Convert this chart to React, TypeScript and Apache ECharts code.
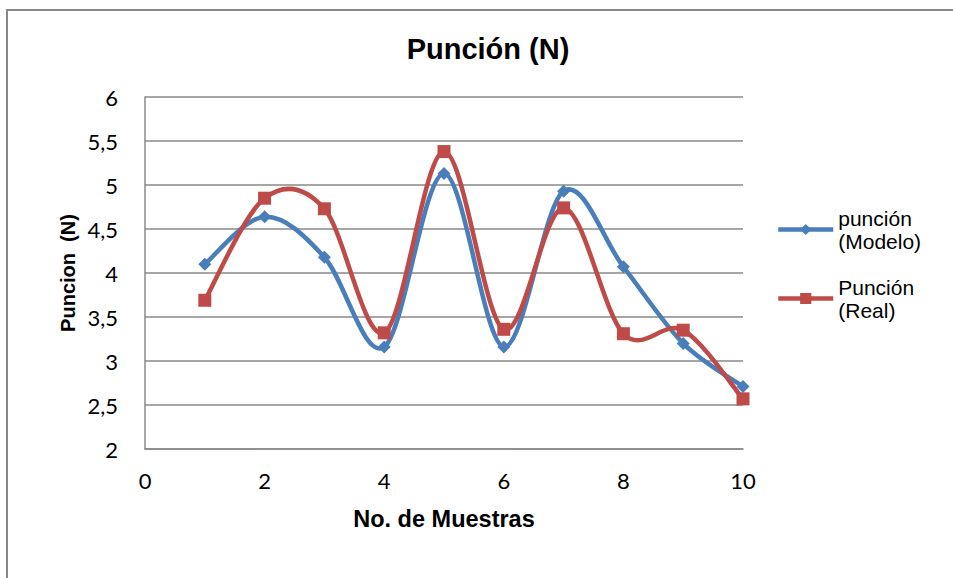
import React, { useEffect, useRef } from "react";
import * as echarts from "echarts";

const samples = [1, 2, 3, 4, 5, 6, 7, 8, 9, 10];
const modelo = [4.1, 4.64, 4.18, 3.16, 5.13, 3.16, 4.93, 4.07, 3.2, 2.71];
const real = [3.69, 4.85, 4.73, 3.32, 5.38, 3.36, 4.74, 3.31, 3.35, 2.57];
const seriesNames = ["punción\n(Modelo)", "Punción\n(Real)"];
const titleText = "Punción (N)";
const xTitle = "No. de Muestras";
const yTitle = "Puncion  (N)";

const BLUE = "#4A7EBB";
const RED = "#BE4B48";

function curveSeries(values: number[], color: string, z: number) {
  return {
    type: "custom",
    coordinateSystem: "cartesian2d",
    silent: true,
    z,
    encode: { x: 0, y: 1 },
    data: samples.map((x, i) => [x, values[i]]),
    renderItem: (params: any, api: any) => {
      const i = params.dataIndex;
      const n = samples.length;
      if (i >= n - 1) return { type: "group", children: [] };
      const pt = (k: number) => {
        const kk = Math.max(0, Math.min(n - 1, k));
        return api.coord([samples[kk], values[kk]]);
      };
      const p0 = pt(i - 1);
      const p1 = pt(i);
      const p2 = pt(i + 1);
      const p3 = pt(i + 2);
      const t = 1 / 6;
      return {
        type: "bezierCurve",
        shape: {
          x1: p1[0],
          y1: p1[1],
          x2: p2[0],
          y2: p2[1],
          cpx1: p1[0] + (p2[0] - p0[0]) * t,
          cpy1: p1[1] + (p2[1] - p0[1]) * t,
          cpx2: p2[0] - (p3[0] - p1[0]) * t,
          cpy2: p2[1] - (p3[1] - p1[1]) * t,
        },
        style: { stroke: color, lineWidth: 4.5, fill: "none", lineCap: "round" },
      };
    },
  };
}

export default function App() {
  const ref = useRef<HTMLDivElement>(null);
  useEffect(() => {
    document.body.style.margin = "0";
    const chart = echarts.init(ref.current!, null, { renderer: "svg" });
    const gray = "#888888";
    chart.setOption({
      animation: false,
      backgroundColor: "#ffffff",
      title: {
        text: titleText,
        left: 483,
        textAlign: "center",
        top: 29,
        textStyle: { fontFamily: "Liberation Sans, Arial", fontWeight: "bold", fontSize: 29, color: "#000" },
      },
      graphic: [
        {
          type: "rect",
          shape: { x: 7, y: 10, width: 1000, height: 600 },
          style: { fill: "none", stroke: gray, lineWidth: 2 },
          silent: true,
        },
      ],
      legend: {
        orient: "vertical",
        left: 771,
        top: 190,
        itemWidth: 55,
        itemHeight: 14,
        itemGap: 0,
        lineStyle: { width: 4.5, opacity: 1 },
        textStyle: {
          fontFamily: "Liberation Sans, Arial",
          fontSize: 21,
          lineHeight: 23,
          color: "#000",
          padding: [23, 0, 0, 0],
        },
        data: seriesNames,
      },
      grid: { left: 145, right: 210, top: 97, bottom: 129 },
      xAxis: {
        type: "value",
        min: 0,
        max: 10,
        interval: 2,
        name: xTitle,
        nameLocation: "middle",
        nameGap: 58,
        nameTextStyle: { fontFamily: "Liberation Sans, Arial", fontWeight: "bold", fontSize: 23.5, color: "#000" },
        axisLine: { show: true, lineStyle: { color: gray, width: 1.5 } },
        axisTick: { show: false },
        splitLine: { show: false },
        axisLabel: { fontFamily: "Lato", fontSize: 22, color: "#000", margin: 20 },
      },
      yAxis: {
        type: "value",
        min: 2,
        max: 6,
        interval: 0.5,
        name: yTitle,
        nameLocation: "middle",
        nameGap: 67,
        nameMoveOverlap: false,
        nameTextStyle: { fontFamily: "Liberation Sans, Arial", fontWeight: "bold", fontSize: 20, color: "#000" },
        axisLine: { show: true, lineStyle: { color: gray, width: 1.5 } },
        axisTick: { show: false },
        splitLine: { show: true, lineStyle: { color: gray, width: 1.5 } },
        axisLabel: {
          fontFamily: "Lato",
          fontSize: 22,
          color: "#000",
          margin: 27,
          formatter: (v: number) => String(v).replace(".", ","),
        },
      },
      series: [
        curveSeries(modelo, BLUE, 2),
        curveSeries(real, RED, 3),
        {
          name: seriesNames[0],
          type: "line",
          data: samples.map((x, i) => [x, modelo[i]]),
          symbol: "diamond",
          symbolSize: 13,
          lineStyle: { color: BLUE, width: 4.5, opacity: 0 },
          itemStyle: { color: BLUE },
          z: 4,
        },
        {
          name: seriesNames[1],
          type: "line",
          data: samples.map((x, i) => [x, real[i]]),
          symbol: "rect",
          symbolSize: 13,
          lineStyle: { color: RED, width: 4.5, opacity: 0 },
          itemStyle: { color: RED },
          z: 5,
        },
      ],
    });
    return () => chart.dispose();
  }, []);
  return <div ref={ref} style={{ width: 953, height: 578 }} />;
}
